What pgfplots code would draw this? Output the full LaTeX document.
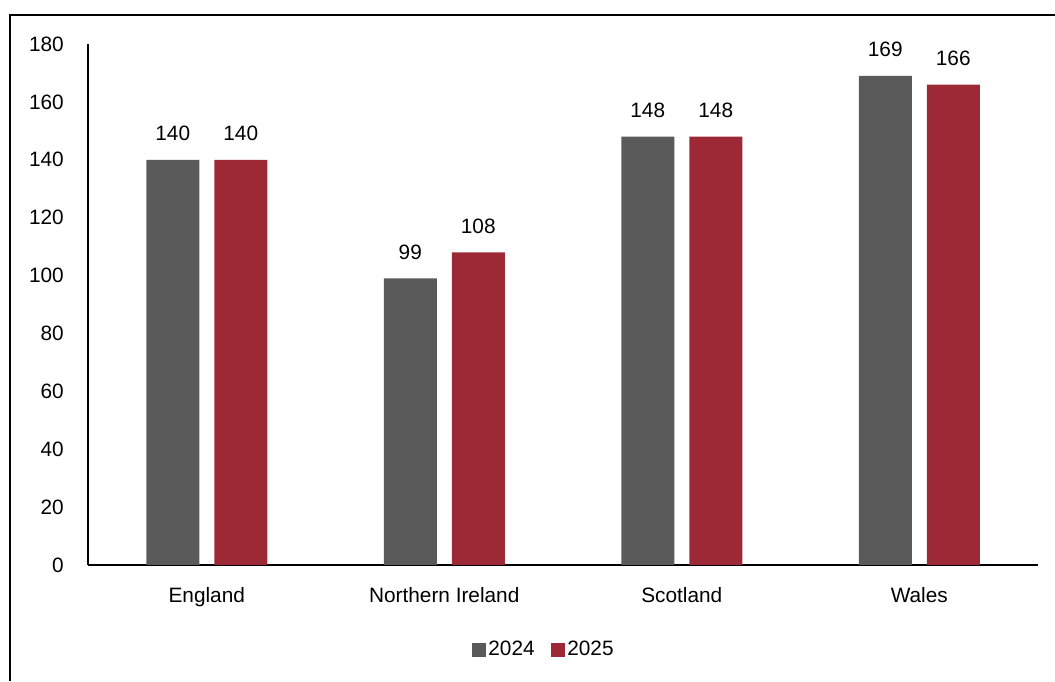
\documentclass[border=0pt]{standalone}
\usepackage{pgfplots}
\pgfplotsset{compat=1.18}
\usepackage{fontspec}
\setmainfont{Liberation Sans}
\definecolor{bargray}{HTML}{5A5A5A}
\definecolor{barred}{HTML}{9E2936}

\begin{document}
\fontsize{15.6}{18}\selectfont
\begin{tikzpicture}
% page extent and the partial outer frame (left and top edges)
\useasboundingbox (0pt,0pt) rectangle (791.25pt,510.75pt);
\draw[line width=1.5pt] (7.5pt,0pt) -- (7.5pt,499.5pt) -- (791.25pt,499.5pt);

\begin{axis}[
  at={(66pt,87pt)}, anchor=south west,
  scale only axis,
  width=712.5pt, height=390.75pt,
  xmin=-0.5, xmax=3.5,
  ymin=0, ymax=180,
  axis x line*=bottom, axis y line*=left,
  axis line style={line width=1.5pt, -},
  ytick={0,20,...,180},
  xtick={0,1,2,3},
  xticklabels={England,Northern Ireland,Scotland,Wales},
  major tick length=0pt,
  tick style={draw=none},
  yticklabel style={anchor=east, inner sep=0pt, xshift=-18pt},
  xticklabel style={anchor=base, inner sep=0pt, yshift=-28.5pt},
  /pgf/number format/assume math mode=true,
  ybar, bar width=39.75pt,
  nodes near coords,
  every node near coord/.append style={anchor=south, inner sep=0pt, yshift=14pt, text=black},
  legend style={
    at={(0.48,-0.163)}, anchor=center, draw=none,
    legend columns=2, font=\fontsize{15.6}{18}\selectfont,
    /tikz/every even column/.append style={column sep=10pt}
  },
  legend image code/.code={\fill[#1] (0pt,-5.25pt) rectangle (10.5pt,5.25pt);},
  legend cell align=left,
]
\addplot[fill=bargray, draw=none, bar shift=-25.5pt] coordinates {(0,140) (1,99) (2,148) (3,169)};
\addplot[fill=barred, draw=none, bar shift=25.5pt] coordinates {(0,140) (1,108) (2,148) (3,166)};
\legend{2024,2025}
\end{axis}
\end{tikzpicture}
\end{document}
